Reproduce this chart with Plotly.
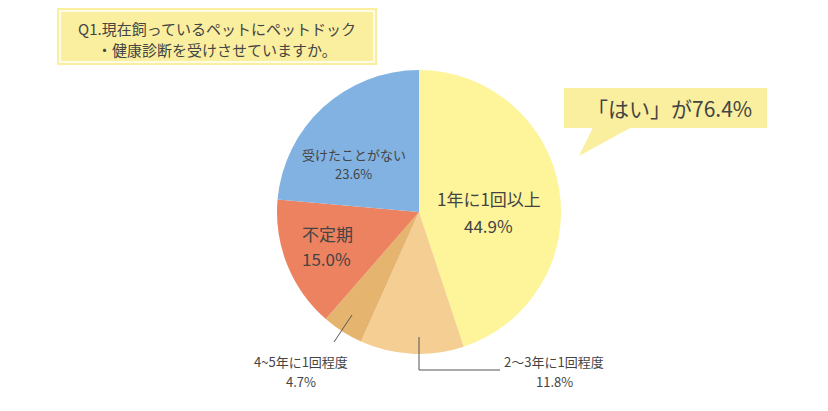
import plotly.graph_objects as go

W, H = 828, 411
labels = ["1年に1回以上", "2～3年に1回程度", "4~5年に1回程度", "不定期", "受けたことがない"]
values = [44.9, 11.8, 4.7, 15.0, 23.6]
colors = ["#FEF49A", "#F4CE93", "#E5B46F", "#EC825F", "#82B2E2"]
title_lines = ["Q1.現在飼っているペットにペットドック", "・健康診断を受けさせていますか。"]
yes_total = sum(values[:4])

FONT = "Noto Sans CJK JP"
TXT = "#444444"

def px(x):
    return x / W

def py(y):
    return 1 - y / H

cx, cy, r = 419, 212, 142

fig = go.Figure(go.Pie(
    labels=labels, values=values, sort=False, direction="clockwise", rotation=0,
    marker=dict(colors=colors, line=dict(width=0)),
    textinfo="none", hoverinfo="label+percent", showlegend=False,
    domain=dict(x=[px(cx - r), px(cx + r)], y=[py(cy + r), py(cy - r)]),
))

shapes = []
# title box
shapes.append(dict(type="rect", xref="paper", yref="paper", x0=px(57), x1=px(377), y0=py(65), y1=py(8),
                   fillcolor="#FAEF9F", line=dict(width=0), layer="below"))
shapes.append(dict(type="rect", xref="paper", yref="paper", x0=px(60), x1=px(374), y0=py(62), y1=py(11),
                   fillcolor="rgba(0,0,0,0)", line=dict(width=1.5, color="white")))
# callout
shapes.append(dict(type="rect", xref="paper", yref="paper", x0=px(564), x1=px(767), y0=py(128), y1=py(88),
                   fillcolor="#FAEF9F", line=dict(width=0)))
shapes.append(dict(type="path", xref="paper", yref="paper",
                   path=f"M {px(593)},{py(127.5)} L {px(631)},{py(127.5)} L {px(579)},{py(156)} Z",
                   fillcolor="#FAEF9F", line=dict(width=0)))
# leader lines
shapes.append(dict(type="line", xref="paper", yref="paper", x0=px(352), y0=py(315), x1=px(334), y1=py(342),
                   line=dict(color="#555555", width=1)))
shapes.append(dict(type="path", xref="paper", yref="paper",
                   path=f"M {px(419)},{py(337)} L {px(419)},{py(370)} L {px(500)},{py(370)}",
                   line=dict(color="#555555", width=1)))

ann = []
def add(text, x, y, size, xanchor="center"):
    ann.append(dict(text=text, x=px(x), y=py(y), xref="paper", yref="paper", showarrow=False,
                    xanchor=xanchor, yanchor="middle",
                    font=dict(family=FONT, size=size, color=TXT)))

add(title_lines[0], 217, 28, 15)
add(title_lines[1], 217, 50, 15)
add(f"「はい」が{yes_total:.1f}%", 669, 108, 21)

add(labels[0], 489, 199, 17)
add(f"{values[0]:.1f}%", 489, 225, 17)
add(labels[4], 354, 154.5, 13)
add(f"{values[4]:.1f}%", 353, 174, 13)
add(labels[3], 300, 233, 17, "left")
add(f"{values[3]:.1f}%", 300, 258, 17, "left")
add(labels[2], 301, 361.5, 13)
add(f"{values[2]:.1f}%", 301, 381, 13)
add(labels[1], 554, 361.5, 13)
add(f"{values[1]:.1f}%", 554, 381, 13)

fig.update_layout(width=W, height=H, margin=dict(l=0, r=0, t=0, b=0),
                  paper_bgcolor="white", plot_bgcolor="white",
                  shapes=shapes, annotations=ann, font=dict(family=FONT))
fig.write_html("out.html")
